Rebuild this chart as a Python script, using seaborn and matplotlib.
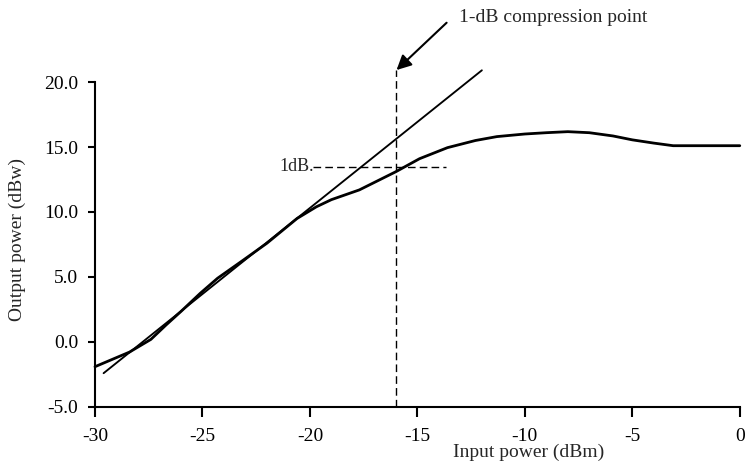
import matplotlib
matplotlib.use("Agg")
import matplotlib.pyplot as plt
import seaborn as sns
import pandas as pd

input_dbm = [-30, -28.4, -27.4, -26.7, -26.0, -25.1, -24.3, -23.1, -22.0, -20.6,
             -19.7, -19.0, -17.7, -16.0, -14.9, -13.6, -12.3, -11.3, -10.0, -9.0,
             -8.0, -7.0, -5.9, -5.0, -4.0, -3.1, 0]
output_dbw = [-1.9, -0.78, 0.2, 1.3, 2.35, 3.75, 4.9, 6.3, 7.6, 9.5,
              10.4, 10.95, 11.7, 13.1, 14.1, 14.95, 15.5, 15.8, 16.0, 16.1,
              16.18, 16.1, 15.85, 15.55, 15.3, 15.1, 15.1]

# Ideal linear gain line
linear_x = [-29.6, -12.0]
linear_y = [-2.4, 20.9]

# 1-dB compression markers
comp_x = -16.0
comp_y = 13.45
onedb_x = [-19.85, -13.65]
vline_y = [-5.0, 20.9]

x_ticks = [-30, -25, -20, -15, -10, -5, 0]
y_ticks = [-5.0, 0.0, 5.0, 10.0, 15.0, 20.0]

sns.set_style("ticks")
plt.rcParams["font.family"] = ["Liberation Serif", "DejaVu Serif"]
plt.rcParams["axes.unicode_minus"] = False

fig = plt.figure(figsize=(7.48, 4.67), dpi=100)
ax = fig.add_axes([0.127, 0.1285, 0.862, 0.6959])

curve = pd.DataFrame({"x": input_dbm, "y": output_dbw})
line = pd.DataFrame({"x": linear_x, "y": linear_y})

sns.lineplot(data=curve, x="x", y="y", color="black", linewidth=2.0, sort=False,
             ax=ax, clip_on=False, solid_joinstyle="round")
sns.lineplot(data=line, x="x", y="y", color="black", linewidth=1.35, sort=False,
             ax=ax, clip_on=False)

# dashed guide lines
ax.plot([comp_x, comp_x], vline_y, color="black", linewidth=1.0,
        dashes=(5.5, 3), clip_on=False)
ax.plot(onedb_x, [comp_y, comp_y], color="black", linewidth=1.0,
        dashes=(5.5, 3), clip_on=False)
ax.text(-21.4, 13.5, "1dB.", fontsize=13, ha="left", va="center")

# annotation
ax.annotate("", xy=(-15.97, 20.92), xytext=(-13.64, 24.56),
            arrowprops=dict(arrowstyle="-|>", color="black", lw=1.5,
                            mutation_scale=22, shrinkA=0, shrinkB=0),
            annotation_clip=False)
ax.text(-13.07, 25.0, "1-dB compression point", fontsize=14, ha="left",
        va="center", clip_on=False)

ax.set_xlim(-30, 0)
ax.set_ylim(-5, 20)
ax.set_xticks(x_ticks)
ax.set_xticklabels([str(t) for t in x_ticks])
ax.set_yticks(y_ticks)
ax.set_yticklabels([f"{t:.1f}" for t in y_ticks])

sns.despine(ax=ax)
for s in ["left", "bottom"]:
    ax.spines[s].set_linewidth(1.5)
    ax.spines[s].set_color("black")
ax.tick_params(axis="y", direction="out", length=5, width=1.5, pad=7,
               labelsize=14, colors="black")
ax.tick_params(axis="x", direction="out", length=7, width=1.5, pad=8,
               labelsize=14, colors="black")

ax.set_xlabel("Input power (dBm)", fontsize=14)
ax.set_ylabel("Output power (dBw)", fontsize=14)
ax.xaxis.label.set_va("center")
ax.xaxis.set_label_coords(0.673, -0.141)
ax.yaxis.label.set_va("center")
ax.yaxis.set_label_coords(-0.121, 0.515)

fig.savefig("out.png", dpi=100)
